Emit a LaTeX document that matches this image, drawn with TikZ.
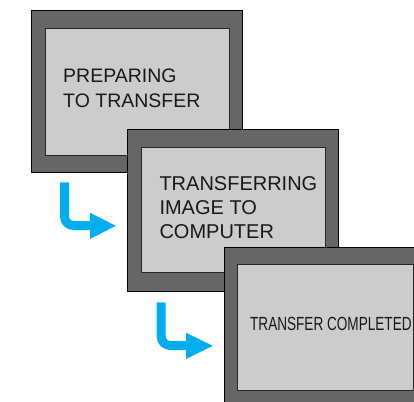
\documentclass[tikz,border=0pt]{standalone}
\usepackage{fontspec}
\setmainfont{Liberation Sans}
\begin{document}
\begin{tikzpicture}[x=1pt,y=1pt,
  outerbox/.style={fill=scrdark,draw=black,line width=0.9pt},
  innerbox/.style={fill=scrlight,draw=black!85,line width=0.9pt},
  lbl/.style={anchor=base west,inner sep=0pt,text=black!90},
  bluearrow/.style={draw=arrowblue,line width=9pt,rounded corners=9pt},
  bluehead/.style={fill=arrowblue,draw=none}]
\definecolor{scrdark}{RGB}{102,102,102}
\definecolor{scrlight}{RGB}{204,204,204}
\definecolor{arrowblue}{RGB}{0,174,239}
\clip (0,0) rectangle (414,-401);
\fill[white] (0,0) rectangle (414,-401);
% screen 1
\draw[outerbox] (31,-10.7) rectangle (242,-172);
\draw[innerbox] (45,-28.7) rectangle (229,-155);
\node[lbl,font=\fontsize{19.5}{25}\selectfont] (t1a) at (63,-82) {PREPARING};
\node[lbl,font=\fontsize{19.5}{25}\selectfont] (t1b) at (63,-107) {TO TRANSFER};
% arrow 1
\coordinate (a1s) at (64.5,-182.3);
\coordinate (a1c) at (64.5,-225.5);
\coordinate (a1e) at (91,-225.5);
\draw[bluearrow] (a1s) -- (a1c) -- (a1e);
\fill[bluehead] (90,-212.7) -- (115.7,-225.8) -- (90,-239) -- cycle;
% screen 2
\draw[outerbox] (127.5,-129) rectangle (338,-291);
\draw[innerbox] (141.7,-147) rectangle (325,-272.7);
\node[lbl,font=\fontsize{20}{24}\selectfont] (t2a) at (159.3,-190) {TRANSFERRING};
\node[lbl,font=\fontsize{20}{24}\selectfont] (t2b) at (159.3,-214) {IMAGE TO};
\node[lbl,font=\fontsize{20}{24}\selectfont] (t2c) at (159.3,-238) {COMPUTER};
% arrow 2
\coordinate (a2s) at (161.2,-302.3);
\coordinate (a2c) at (161.2,-345.5);
\coordinate (a2e) at (187,-345.5);
\draw[bluearrow] (a2s) -- (a2c) -- (a2e);
\fill[bluehead] (186,-332.7) -- (212.7,-345.8) -- (186,-359) -- cycle;
% screen 3
\draw[outerbox] (224,-247) rectangle (430,-409);
\draw[innerbox] (237.7,-264.3) rectangle (413.3,-390.5);
\node[lbl,font=\fontsize{19}{23}\selectfont,xscale=0.715] (t3) at (250,-330.7) {TRANSFER COMPLETED};
\end{tikzpicture}
\end{document}
